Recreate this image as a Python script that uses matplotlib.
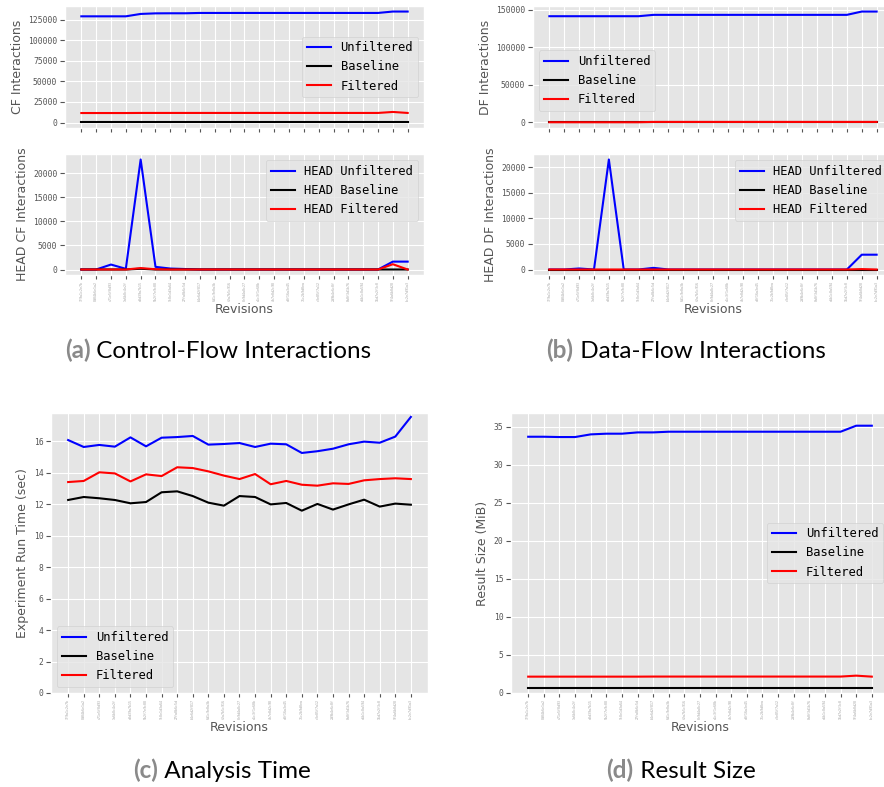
import matplotlib
matplotlib.use('Agg')
import matplotlib.pyplot as plt
from matplotlib.ticker import MultipleLocator
from matplotlib.offsetbox import TextArea, HPacker, AnchoredOffsetbox

plt.style.use('ggplot')
plt.rcParams['font.monospace'] = ['DejaVu Sans Mono']

# ---------------- data ----------------
revisions = ["3f9a1c2e7b", "8d04b6e1a2", "c71e5f0d93", "1a6b8c4e2f", "e0d39a7b15",
             "5b2f7e9c08", "9c8e1d3a64", "27fa0b6c5d", "b4e6d2f817", "6d1c9e0a3b",
             "f2a7b5c916", "0e9d4a8c27", "a5c3f1e60b", "4b7e0d2c98", "d8f16a3e45",
             "71c2b9d0ea", "c3e85f7a12", "2d9b4e6c0f", "8a0f3d1b76", "e6b1c8a594",
             "15d7e2f3c0", "9f4a6b0d28", "bc2e7d91a3"]

cf_unfiltered = [129000, 129000, 129000, 129000, 131900, 132600, 132700, 132700,
                 133100, 133100, 133100, 133100, 133100, 133100, 133100, 133100,
                 133100, 133100, 133100, 133100, 133100, 134800, 134800]
cf_baseline = [150, 150, 150, 150, 150, 150, 150, 150, 150, 150, 150, 150,
               150, 150, 150, 150, 150, 150, 150, 150, 150, 150, 150]
cf_filtered = [11600, 11600, 11600, 11600, 11700, 11700, 11700, 11700, 11700, 11700,
               11700, 11700, 11700, 11700, 11700, 11700, 11700, 11700, 11700, 11700,
               11700, 12900, 11700]

head_cf_unfiltered = [0, 0, 1030, 140, 22900, 550, 200, 100, 0, 0, 0, 0,
                      0, 0, 0, 0, 0, 0, 0, 0, 0, 1640, 1640]
head_cf_baseline = [0, 0, 0, 0, 150, 0, 0, 0, 0, 0, 0, 0,
                    0, 0, 0, 0, 0, 0, 0, 0, 0, 0, 0]
head_cf_filtered = [0, 0, 0, 0, 300, 50, 0, 0, 0, 0, 0, 0,
                    0, 0, 0, 0, 0, 0, 0, 0, 0, 1100, 0]

df_unfiltered = [141200, 141200, 141200, 141200, 141200, 141200, 141200, 143000,
                 143000, 143000, 143000, 143000, 143000, 143000, 143000, 143000,
                 143000, 143000, 143000, 143000, 143000, 147400, 147400]
df_baseline = [0, 0, 0, 0, 0, 0, 0, 0, 0, 0, 0, 0,
               0, 0, 0, 0, 0, 0, 0, 0, 0, 0, 0]
df_filtered = [300, 300, 300, 300, 300, 300, 300, 700, 700, 700, 700, 700,
               700, 700, 700, 700, 700, 700, 700, 700, 700, 700, 700]

head_df_unfiltered = [0, 0, 200, 0, 21550, 0, 0, 320, 0, 0, 0, 0,
                      0, 0, 0, 0, 0, 0, 0, 0, 0, 2900, 2900]
head_df_baseline = [0, 0, 0, 0, 0, 0, 0, 0, 0, 0, 0, 0,
                    0, 0, 0, 0, 0, 0, 0, 0, 0, 0, 0]
head_df_filtered = [0, 0, 0, 0, 0, 0, 0, 0, 0, 0, 0, 0,
                    0, 0, 0, 0, 0, 0, 0, 0, 0, 80, 0]

time_unfiltered = [16.08, 15.64, 15.77, 15.66, 16.25, 15.68, 16.23, 16.27, 16.34, 15.79,
                   15.83, 15.89, 15.64, 15.85, 15.81, 15.26, 15.37, 15.53, 15.81, 15.98,
                   15.91, 16.30, 17.55]
time_baseline = [12.27, 12.46, 12.38, 12.27, 12.06, 12.14, 12.76, 12.82, 12.52, 12.10,
                 11.91, 12.52, 12.46, 11.99, 12.08, 11.59, 12.02, 11.66, 11.99, 12.29,
                 11.85, 12.04, 11.97]
time_filtered = [13.41, 13.48, 14.03, 13.96, 13.45, 13.90, 13.79, 14.35, 14.30, 14.09,
                 13.82, 13.60, 13.92, 13.27, 13.48, 13.24, 13.18, 13.33, 13.29, 13.52,
                 13.60, 13.65, 13.60]

size_unfiltered = [33.68, 33.68, 33.64, 33.64, 33.99, 34.08, 34.08, 34.25, 34.25, 34.34,
                   34.34, 34.34, 34.34, 34.34, 34.34, 34.34, 34.34, 34.34, 34.34, 34.34,
                   34.34, 35.13, 35.13]
size_baseline = [0.70, 0.70, 0.70, 0.70, 0.70, 0.70, 0.70, 0.70, 0.70, 0.70, 0.70, 0.70,
                 0.70, 0.70, 0.70, 0.70, 0.70, 0.70, 0.70, 0.70, 0.70, 0.70, 0.70]
size_filtered = [2.15, 2.15, 2.15, 2.15, 2.15, 2.15, 2.15, 2.15, 2.16, 2.16, 2.16, 2.16,
                 2.16, 2.16, 2.16, 2.16, 2.16, 2.16, 2.16, 2.16, 2.16, 2.28, 2.15]

labels_main = ["Unfiltered", "Baseline", "Filtered"]
labels_head = ["HEAD Unfiltered", "HEAD Baseline", "HEAD Filtered"]
colors = ["blue", "black", "red"]

captions = [("(a)", " Control-Flow Interactions"),
            ("(b)", " Data-Flow Interactions"),
            ("(c)", " Analysis Time"),
            ("(d)", " Result Size")]

# ---------------- layout ----------------
W, H = 884, 787
fig = plt.figure(figsize=(W / 100, H / 100), dpi=100)


def add_ax(x0, x1, y0, y1):
    return fig.add_axes([x0 / W, 1 - y1 / H, (x1 - x0) / W, (y1 - y0) / H])


def draw(ax, series, labels, ylabel, step, legend_kw, show_xlabels=True):
    x = list(range(len(revisions)))
    for ys, lab, c in zip(series, labels, colors):
        ax.plot(x, ys, color=c, lw=1.5, label=lab)
    ax.set_xticks(x)
    if show_xlabels:
        ax.set_xticklabels(revisions, rotation=90, fontsize=2.3,
                           fontfamily='monospace', color='#a0a0a0')
        ax.set_xlabel("Revisions", fontsize=9, color='#555555', labelpad=1.5)
    else:
        ax.set_xticklabels([])
    ax.yaxis.set_major_locator(MultipleLocator(step))
    ax.ticklabel_format(style='plain', axis='y', useOffset=False)
    ax.tick_params(axis='y', labelsize=5.8, labelfontfamily='monospace',
                   labelcolor='#555555', pad=2)
    ax.tick_params(axis='x', length=3, pad=1.2)
    ax.set_ylabel(ylabel, fontsize=9, color='#555555', labelpad=3)
    ax.legend(prop={'family': 'monospace', 'size': 8.7}, **legend_kw)


A1 = add_ax(65, 424, 6, 128)
A2 = add_ax(65, 424, 154, 275)
B1 = add_ax(533, 893, 6, 128)
B2 = add_ax(533, 893, 154, 275)
C = add_ax(51, 428, 413, 693)
D = add_ax(511, 889, 413, 693)

draw(A1, [cf_unfiltered, cf_baseline, cf_filtered], labels_main, "CF Interactions",
     25000, dict(loc='center right'), show_xlabels=False)
draw(A2, [head_cf_unfiltered, head_cf_baseline, head_cf_filtered], labels_head,
     "HEAD CF Interactions", 5000, dict(loc='upper right'))
draw(B1, [df_unfiltered, df_baseline, df_filtered], labels_main, "DF Interactions",
     50000, dict(loc='lower left', bbox_to_anchor=(0.0, 0.09)), show_xlabels=False)
draw(B2, [head_df_unfiltered, head_df_baseline, head_df_filtered], labels_head,
     "HEAD DF Interactions", 5000, dict(loc='upper right'))
draw(C, [time_unfiltered, time_baseline, time_filtered], labels_main,
     "Experiment Run Time (sec)", 2, dict(loc='lower left'))
C.set_ylim(0, 17.8)
draw(D, [size_unfiltered, size_baseline, size_filtered], labels_main,
     "Result Size (MiB)", 5, dict(loc='center right'))
D.set_ylim(0, 36.8)

# ---------------- captions ----------------
cap_pos = [(218, 350), (686, 350), (222, 770), (681, 770)]
for (tag, txt), (cx, cy) in zip(captions, cap_pos):
    t1 = TextArea(tag, textprops=dict(fontsize=17.5, family='Lato', fontweight='bold',
                                      color='#8a8a8a'))
    t2 = TextArea(txt, textprops=dict(fontsize=17.5, family='Lato', color='black'))
    box = HPacker(children=[t1, t2], align='baseline', pad=0, sep=0)
    anch = AnchoredOffsetbox(loc='center', child=box, pad=0, borderpad=0, frameon=False,
                             bbox_to_anchor=(cx / W, 1 - cy / H),
                             bbox_transform=fig.transFigure)
    fig.add_artist(anch)

fig.savefig("out.png", dpi=100)
